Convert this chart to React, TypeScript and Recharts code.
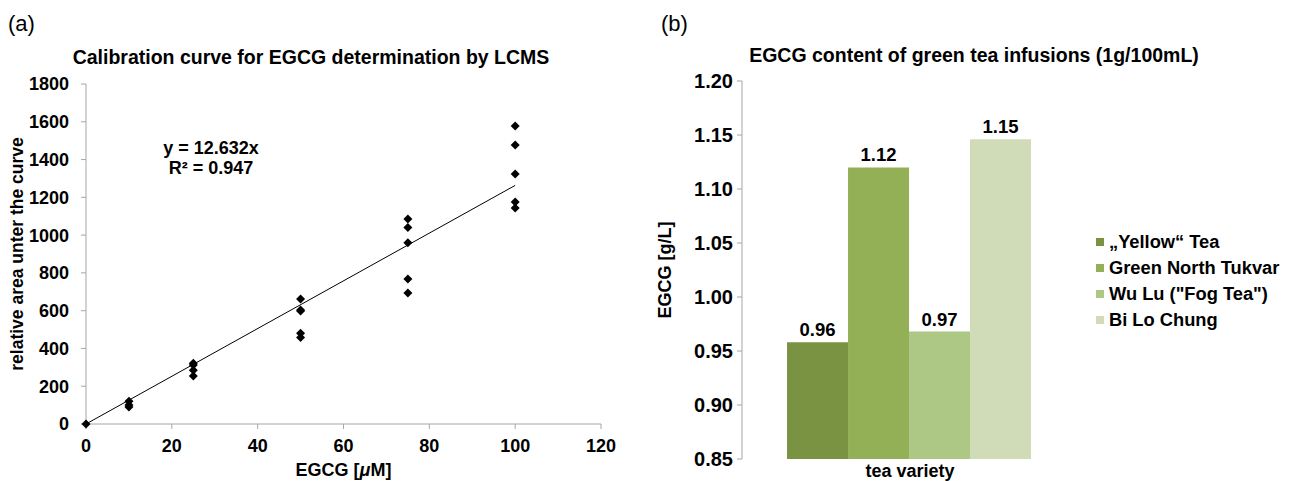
import React from 'react';
import {
  ScatterChart, Scatter, XAxis, YAxis, ReferenceLine, Label,
  BarChart, Bar, LabelList, Legend,
} from 'recharts';

const FONT = '"Liberation Sans", Arial, Helvetica, sans-serif';

// ---- Panel (a) data ----
const concentrations = [0, 10, 25, 50, 75, 100];
const areas0 = [0];
const areas10 = [120, 100, 90];
const areas25 = [322, 312, 285, 254];
const areas50 = [662, 604, 598, 480, 458];
const areas75 = [1085, 1040, 960, 768, 693];
const areas100 = [1578, 1477, 1323, 1175, 1143];
const areaReplicates = [areas0, areas10, areas25, areas50, areas75, areas100];
const slope = 12.632;
const rSquared = 0.947;
const xTicksA = [0, 20, 40, 60, 80, 100, 120];
const yTicksA = [0, 200, 400, 600, 800, 1000, 1200, 1400, 1600, 1800];

const scatterData = concentrations.flatMap((c, i) =>
  areaReplicates[i].map((a) => ({ x: c, y: a }))
);

// ---- Panel (b) data ----
const teaNames = ['\u201EYellow\u201C Tea', 'Green North Tukvar', 'Wu Lu ("Fog Tea")', 'Bi Lo Chung'];
const teaKeys = ['yellow', 'green', 'wulu', 'bilo'];
const teaValues = [0.958, 1.12, 0.968, 1.146];
const teaColors = ['#7a9343', '#93b057', '#adc785', '#cfdcb7'];
const yTicksB = [0.85, 0.9, 0.95, 1.0, 1.05, 1.1, 1.15, 1.2];
const categoryB = 'tea variety';

const barData = [
  teaKeys.reduce((o: any, k, i) => { o[k] = teaValues[i]; return o; }, { name: categoryB }),
];

const tickStyleA = { fontFamily: FONT, fontSize: 18, fontWeight: 700, fill: '#000' };
const tickStyleB = { fontFamily: FONT, fontSize: 20, fontWeight: 700, fill: '#000' };
const AXIS = '#a6a6a6';

const Diamond = (props: any) => {
  const { cx, cy } = props;
  const r = 4.5;
  return (
    <polygon
      points={`${cx},${cy - r} ${cx + r},${cy} ${cx},${cy + r} ${cx - r},${cy}`}
      fill="#000"
    />
  );
};

const abs = (left: number, top: number, extra: any = {}): React.CSSProperties => ({
  position: 'absolute', left, top, fontFamily: FONT, color: '#000', whiteSpace: 'nowrap', ...extra,
});

const LegendContent = () => (
  <div style={{ fontFamily: FONT, fontSize: 18.3, fontWeight: 700 }}>
    {teaNames.map((n, i) => (
      <div key={n} style={{ height: 26, display: 'flex', alignItems: 'center' }}>
        <span style={{ display: 'inline-block', width: 8, height: 8, background: teaColors[i], marginRight: 5 }} />
        <span>{n}</span>
      </div>
    ))}
  </div>
);

export default function App() {
  return (
    <div style={{ position: 'absolute', left: 0, top: 0, width: 1296, height: 481, background: '#fff' }}>
      {/* Panel (a) */}
      <div style={abs(8, 11, { fontSize: 22 })}>(a)</div>
      <div style={abs(311, 57, { fontSize: 19.5, fontWeight: 700, transform: 'translate(-50%, -50%)' })}>
        Calibration curve for EGCG determination by LCMS
      </div>
      <div style={abs(211, 148, { fontSize: 18, fontWeight: 700, transform: 'translate(-50%, -50%)' })}>
        y = {slope}x
      </div>
      <div style={abs(211, 168, { fontSize: 18, fontWeight: 700, transform: 'translate(-50%, -50%)' })}>
        R² = {rSquared}
      </div>
      <div style={{ position: 'absolute', left: 0, top: 0 }}>
        <ScatterChart width={640} height={481} margin={{ top: 84, right: 39, bottom: 27, left: 36 }}>
          <XAxis
            type="number" dataKey="x" domain={[0, 120]} ticks={xTicksA} interval={0}
            stroke={AXIS} tick={tickStyleA} tickSize={5} tickMargin={10} height={30}
            label={
              <Label
                content={(p: any) => {
                  const vb = p.viewBox;
                  return (
                    <text x={vb.x + vb.width / 2} y={vb.y + 52} textAnchor="middle"
                      style={{ fontFamily: FONT, fontSize: 18, fontWeight: 700 }} fill="#000">
                      EGCG [<tspan fontStyle="italic">μ</tspan>M]
                    </text>
                  );
                }}
              />
            }
          />
          <YAxis
            type="number" dataKey="y" domain={[0, 1800]} ticks={yTicksA} interval={0}
            stroke={AXIS} tick={tickStyleA} tickSize={5} tickMargin={12} width={50}
            label={
              <Label
                content={(p: any) => {
                  const vb = p.viewBox;
                  const cx = vb.x - 19;
                  const cy = vb.y + vb.height / 2;
                  return (
                    <text x={cx} y={cy} textAnchor="middle" dominantBaseline="central"
                      transform={`rotate(-90, ${cx}, ${cy})`}
                      style={{ fontFamily: FONT, fontSize: 17.5, fontWeight: 700 }} fill="#000">
                      relative area unter the curve
                    </text>
                  );
                }}
              />
            }
          />
          <ReferenceLine
            segment={[{ x: 0, y: 0 }, { x: 100, y: slope * 100 }]}
            stroke="#000" strokeWidth={1}
          />
          <Scatter data={scatterData} shape={Diamond} isAnimationActive={false} />
        </ScatterChart>
      </div>

      {/* Panel (b) */}
      <div style={abs(661, 11, { fontSize: 22 })}>(b)</div>
      <div style={abs(974, 55, { fontSize: 19.5, fontWeight: 700, transform: 'translate(-50%, -50%)' })}>
        EGCG content of green tea infusions (1g/100mL)
      </div>
      <div style={{ position: 'absolute', left: 640, top: 0 }}>
        <BarChart
          width={656} height={481} data={barData}
          margin={{ top: 81, right: 218, bottom: 0, left: 42 }}
          barCategoryGap="13.4%" barGap={0}
        >
          <XAxis
            dataKey="name" axisLine={false} tickLine={false} tickSize={0} tickMargin={5}
            height={22} tick={{ ...tickStyleA }}
          />
          <YAxis
            type="number" domain={[0.85, 1.2]} ticks={yTicksB} interval={0} allowDataOverflow
            stroke={AXIS} tick={tickStyleB} tickSize={5} tickMargin={4} width={60}
            tickFormatter={(v: number) => v.toFixed(2)}
            label={
              <Label
                content={(p: any) => {
                  const vb = p.viewBox;
                  const cx = 665 - 640;
                  const cy = vb.y + vb.height / 2;
                  return (
                    <text x={cx} y={cy} textAnchor="middle" dominantBaseline="central"
                      transform={`rotate(-90, ${cx}, ${cy})`}
                      style={{ fontFamily: FONT, fontSize: 18, fontWeight: 700 }} fill="#000">
                      EGCG [g/L]
                    </text>
                  );
                }}
              />
            }
          />
          <Legend
            layout="vertical" align="center" verticalAlign="middle"
            wrapperStyle={{ left: 456, top: 229, width: 200 }}
            content={<LegendContent />}
          />
          {teaKeys.map((k, i) => (
            <Bar key={k} dataKey={k} name={teaNames[i]} fill={teaColors[i]} isAnimationActive={false}>
              <LabelList
                dataKey={k} position="top" offset={6}
                formatter={(v: any) => Number(v).toFixed(2)}
                style={{ fontFamily: FONT, fontSize: 18.5, fontWeight: 700, fill: '#000' }}
              />
            </Bar>
          ))}
        </BarChart>
      </div>
    </div>
  );
}
